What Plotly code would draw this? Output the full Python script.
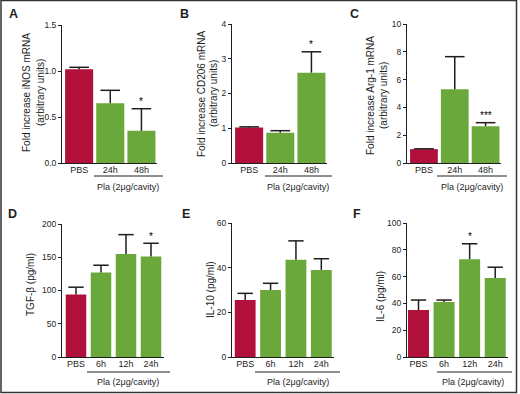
import plotly.graph_objects as go

W, H = 520, 394
RED = "#B0103A"
GREEN = "#6AA83C"
INK = "#1e1e1e"
FONT = "Liberation Sans, Arial, sans-serif"

# ---------------- data ----------------
cats_top = ["PBS", "24h", "48h"]
cats_bot = ["PBS", "6h", "12h", "24h"]

inos_mean = [1.02, 0.65, 0.35]
inos_top = [1.04, 0.79, 0.59]
inos_sig = ["", "", "*"]

cd206_mean = [1.02, 0.87, 2.60]
cd206_top = [1.04, 0.93, 3.20]
cd206_sig = ["", "", "*"]

arg1_mean = [1.00, 5.30, 2.65]
arg1_top = [1.02, 7.65, 2.90]
arg1_sig = ["", "", "***"]

tgfb_mean = [94, 127, 155, 151]
tgfb_top = [105, 138, 184, 171]
tgfb_sig = ["", "", "", "*"]

il10_mean = [25.5, 30.0, 43.5, 39.0]
il10_top = [28.5, 33.0, 52.0, 44.0]
il10_sig = ["", "", "", ""]

il6_mean = [35, 41, 73, 59]
il6_top = [42.5, 42.5, 84.5, 67]
il6_sig = ["", "", "*", ""]

panels = [
    dict(letter="A", cats=cats_top, mean=inos_mean, top=inos_top, sig=inos_sig,
         titles=[("Fold increase iNOS mRNA", 26, 93), ("(arbitrary units)", 40, 93)],
         yr=1.5, dt=0.5, fmt=".1f",
         xd=(62, 157), yd=(25, 163), rng=(-0.55, 2.5), bw=0.9, cap=14,
         lab=(13, 14), line=(94, 163, 176), plab=(128, 187)),
    dict(letter="B", cats=cats_top, mean=cd206_mean, top=cd206_top, sig=cd206_sig,
         titles=[("Fold increase CD206 mRNA", 202, 94), ("(arbitrary units)", 214, 94)],
         yr=4, dt=1, fmt="d",
         xd=(232, 327), yd=(24, 163), rng=(-0.55, 2.5), bw=0.9, cap=14,
         lab=(184, 14), line=(265, 332, 176), plab=(298, 187)),
    dict(letter="C", cats=cats_top, mean=arg1_mean, top=arg1_top, sig=arg1_sig,
         titles=[("Fold increase Arg-1 mRNA", 370, 96), ("(arbitrary units)", 383, 96)],
         yr=10, dt=2, fmt="d",
         xd=(407, 501), yd=(24, 163), rng=(-0.55, 2.5), bw=0.9, cap=14,
         lab=(354, 14), line=(437, 507, 176), plab=(472, 187)),
    dict(letter="D", cats=cats_bot, mean=tgfb_mean, top=tgfb_top, sig=tgfb_sig,
         titles=[("TGF-β (pg/ml)", 30, 285)],
         yr=200, dt=50, fmt="d",
         xd=(62, 163.5), yd=(224, 357), rng=(-0.56, 3.5), bw=0.82, cap=11,
         lab=(12, 214), line=(87, 170, 372), plab=(128, 382)),
    dict(letter="E", cats=cats_bot, mean=il10_mean, top=il10_top, sig=il10_sig,
         titles=[("IL-10 (pg/ml)", 210, 290)],
         yr=60, dt=20, fmt="d",
         xd=(232, 334), yd=(223, 357), rng=(-0.52, 3.5), bw=0.82, cap=11,
         lab=(186, 214), line=(255, 340, 372), plab=(298, 382)),
    dict(letter="F", cats=cats_bot, mean=il6_mean, top=il6_top, sig=il6_sig,
         titles=[("IL-6 (pg/ml)", 380, 297)],
         yr=100, dt=20, fmt="d",
         xd=(407, 508), yd=(223, 357), rng=(-0.45, 3.5), bw=0.82, cap=11,
         lab=(357, 214), line=(437, 512, 372), plab=(473, 382)),
]


def fx(px):
    return px / W


def fy(py):
    return 1 - py / H


def paper_text(text, x, y, size, angle=0):
    return dict(x=fx(x), y=fy(y), xref="paper", yref="paper", text=text, showarrow=False,
                xanchor="center", yanchor="middle", textangle=angle,
                font=dict(size=size, color=INK, family=FONT))


fig = go.Figure()
annotations = []
shapes = []
layout = {}

for i, p in enumerate(panels):
    n = i + 1
    xa = "x" if n == 1 else f"x{n}"
    ya = "y" if n == 1 else f"y{n}"
    colors = [RED] + [GREEN] * (len(p["cats"]) - 1)
    err = [t - m for t, m in zip(p["top"], p["mean"])]
    fig.add_trace(go.Bar(
        x=p["cats"], y=p["mean"], width=p["bw"], marker=dict(color=colors, line=dict(width=0)),
        error_y=dict(type="data", array=err, arrayminus=[0] * len(err), symmetric=False,
                     color=INK, thickness=1.5, width=0),
        xaxis=xa, yaxis=ya, showlegend=False, hoverinfo="skip"))
    # error bar caps
    fig.add_trace(go.Scatter(
        x=p["cats"], y=p["top"], mode="markers",
        marker=dict(symbol="line-ew", size=p["cap"], line=dict(color=INK, width=1.5)),
        xaxis=xa, yaxis=ya, showlegend=False, hoverinfo="skip", cliponaxis=False))
    for c, t, s in zip(p["cats"], p["top"], p["sig"]):
        if s:
            annotations.append(dict(x=c, y=t, xref=xa, yref=ya, text=s, showarrow=False,
                                    xanchor="center", yanchor="middle",
                                    yshift=7, font=dict(size=10, color="#000000", family=FONT)))
    tickvals = []
    v = 0
    while v <= p["yr"] + 1e-9:
        tickvals.append(v)
        v += p["dt"]
    ticktext = [format(t, ".1f") if p["fmt"] == ".1f" else str(int(round(t))) for t in tickvals]
    layout["xaxis" if n == 1 else f"xaxis{n}"] = dict(
        domain=[fx(p["xd"][0]), fx(p["xd"][1])], anchor=ya, range=list(p["rng"]),
        type="category", showline=True, linecolor=INK, linewidth=1, ticks="",
        showgrid=False, zeroline=False, tickfont=dict(size=9, color=INK, family=FONT),
        ticklabelstandoff=-2, automargin=False, fixedrange=True)
    layout["yaxis" if n == 1 else f"yaxis{n}"] = dict(
        domain=[fy(p["yd"][1]), fy(p["yd"][0])], anchor=xa, range=[0, p["yr"]],
        tickvals=tickvals, ticktext=ticktext, showline=True, linecolor=INK, linewidth=1,
        ticks="outside", ticklen=3, tickcolor=INK, tickwidth=1, showgrid=False, zeroline=False,
        tickfont=dict(size=8.5, color=INK, family=FONT),
        automargin=False, fixedrange=True)
    for txt, tx, ty in p["titles"]:
        annotations.append(paper_text(txt, tx, ty, 10, -90))
    annotations.append(paper_text(f"<b>{p['letter']}</b>", p["lab"][0], p["lab"][1], 12.5))
    x0, x1, ly = p["line"]
    shapes.append(dict(type="line", xref="paper", yref="paper", x0=fx(x0), x1=fx(x1),
                       y0=fy(ly), y1=fy(ly), line=dict(color=INK, width=1)))
    annotations.append(paper_text("Pla (2μg/cavity)", p["plab"][0], p["plab"][1], 9))

# outer frame
shapes.append(dict(type="rect", xref="paper", yref="paper", x0=fx(1), x1=fx(516.5),
                   y0=fy(392.5), y1=fy(0.5), line=dict(color="#333333", width=1.5)))

fig.update_layout(
    width=W, height=H, margin=dict(l=0, r=0, t=0, b=0, autoexpand=False),
    paper_bgcolor="white", plot_bgcolor="white", showlegend=False,
    annotations=annotations, shapes=shapes, **layout)

fig.write_html("out.html", config={"displayModeBar": False},
               post_script="document.body.style.margin='0';document.body.style.padding='0';")
